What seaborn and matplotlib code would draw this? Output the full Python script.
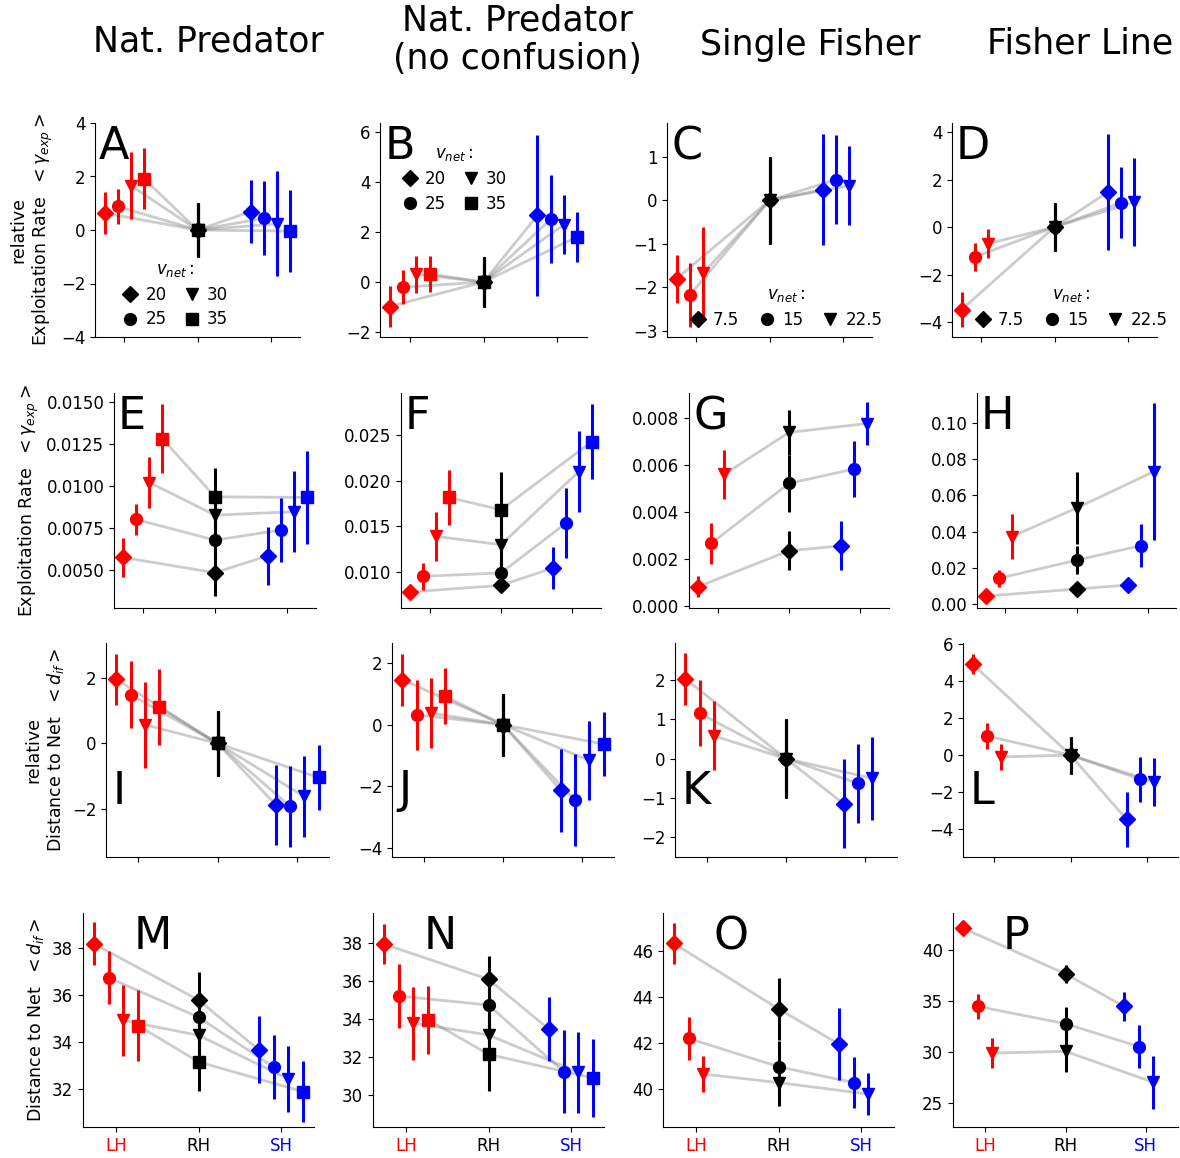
import numpy as np
import pandas as pd
import matplotlib
matplotlib.use('Agg')
import matplotlib.pyplot as plt
from matplotlib.lines import Line2D
import seaborn as sns

# habitats on the x axis and their colours
hab = ['LH', 'RH', 'SH']
hab_col = ['red', 'black', 'blue']
markers = ['D', 'o', 'v', 's']
vnet_pred = ['20', '25', '30', '35']
vnet_fish = ['7.5', '15', '22.5']

# each panel: rows = LH, RH, SH ; columns = v_net group (mean, error)
A_y = [[0.63, 0.88, 1.66, 1.92], [0, 0, 0, 0], [0.69, 0.44, 0.23, -0.04]]
A_e = [[0.79, 0.64, 1.26, 1.15], [1, 1, 1, 1], [1.19, 1.38, 1.96, 1.54]]
B_y = [[-0.98, -0.21, 0.31, 0.32], [0, 0, 0, 0], [2.67, 2.51, 2.30, 1.81]]
B_e = [[0.82, 0.68, 0.75, 0.72], [1, 1, 1, 1], [3.23, 1.76, 1.19, 1.01]]
C_y = [[-1.80, -2.18, -1.68], [0, 0, 0], [0.25, 0.48, 0.34]]
C_e = [[0.55, 0.73, 1.08], [1, 1, 1], [1.27, 1.03, 0.91]]
D_y = [[-3.48, -1.26, -0.70], [0, 0, 0], [1.47, 1.02, 1.05]]
D_e = [[0.74, 0.59, 0.60], [1, 1, 1], [2.45, 1.50, 1.85]]

E_y = [[0.00575, 0.00801, 0.01021, 0.01282], [0.00484, 0.00678, 0.00827, 0.00936],
       [0.00585, 0.00738, 0.00847, 0.00932]]
E_e = [[0.00115, 0.0009, 0.00153, 0.00206], [0.0014, 0.0012, 0.0014, 0.0017],
       [0.00173, 0.0019, 0.0024, 0.00275]]
F_y = [[0.00782, 0.00953, 0.0139, 0.01816], [0.00854, 0.0099, 0.01299, 0.01681],
       [0.01044, 0.01535, 0.021, 0.02427]]
F_e = [[0.0002, 0.00146, 0.0027, 0.003], [0.0006, 0.0012, 0.0025, 0.0041],
       [0.0023, 0.0038, 0.0044, 0.0041]]
G_y = [[0.00081, 0.00265, 0.00559], [0.00234, 0.00521, 0.00738], [0.00255, 0.00582, 0.00776]]
G_e = [[0.00044, 0.00087, 0.00103], [0.00083, 0.0012, 0.00095], [0.00104, 0.0012, 0.0009]]
H_y = [[0.0044, 0.0142, 0.0373], [0.0083, 0.0242, 0.053], [0.0105, 0.0323, 0.0732]]
H_e = [[0.0008, 0.0046, 0.0125], [0.0008, 0.0076, 0.02], [0.0008, 0.0118, 0.0377]]

I_y = [[1.96, 1.49, 0.57, 1.11], [0, 0, 0, 0], [-1.87, -1.92, -1.62, -1.04]]
I_e = [[0.77, 1.02, 1.31, 1.17], [1, 1, 1, 1], [1.22, 1.24, 1.23, 1.0]]
J_y = [[1.46, 0.32, 0.38, 0.92], [0, 0, 0, 0], [-2.13, -2.45, -1.16, -0.63]]
J_e = [[0.84, 1.14, 1.14, 0.91], [1, 1, 1, 1], [1.35, 1.49, 1.29, 1.04]]
K_y = [[2.03, 1.15, 0.58], [0, 0, 0], [-1.15, -0.63, -0.50]]
K_e = [[0.66, 0.84, 0.88], [1, 1, 1], [1.13, 1.0, 1.05]]
L_y = [[4.89, 1.03, -0.10], [0, 0, 0], [-3.47, -1.31, -1.44]]
L_e = [[0.54, 0.70, 0.70], [1, 1, 1], [1.49, 1.22, 1.30]]

M_y = [[38.19, 36.75, 34.93, 34.71], [35.80, 35.07, 34.30, 33.17], [33.68, 32.95, 32.44, 31.90]]
M_e = [[0.92, 1.14, 1.49, 1.50], [1.2, 1.0, 1.0, 1.25], [1.43, 1.36, 1.40, 1.30]]
N_y = [[37.96, 35.22, 33.78, 33.96], [36.10, 34.74, 33.16, 32.14], [33.47, 31.23, 31.18, 30.88]]
N_e = [[1.07, 1.67, 1.92, 1.80], [1.25, 1.2, 1.2, 1.93], [1.71, 2.18, 2.15, 2.07]]
O_y = [[46.33, 42.20, 40.65], [43.48, 40.97, 40.28], [41.96, 40.28, 39.78]]
O_e = [[0.90, 0.93, 0.78], [1.35, 1.1, 1.0], [1.58, 1.1, 0.9]]
P_y = [[42.10, 34.47, 29.92], [37.65, 32.79, 30.09], [34.47, 30.56, 27.07]]
P_e = [[0.5, 1.23, 1.5], [0.9, 1.6, 2.0], [1.37, 2.1, 2.6]]

col_titles = ['Nat. Predator', 'Nat. Predator\n(no confusion)', 'Single Fisher', 'Fisher Line']
row_labels = ['relative\nExploitation Rate  $<\\gamma_{exp}>$',
              'Exploitation Rate  $<\\gamma_{exp}>$',
              'relative\nDistance to Net  $<d_{if}>$',
              'Distance to Net  $<d_{if}>$']

panels = [
    ('A', A_y, A_e, (-4, 4)), ('B', B_y, B_e, (-2.2, 6.36)),
    ('C', C_y, C_e, (-3.14, 1.78)), ('D', D_y, D_e, (-4.63, 4.38)),
    ('E', E_y, E_e, (0.00274, 0.01554)), ('F', F_y, F_e, (0.00606, 0.0296)),
    ('G', G_y, G_e, (-0.0001, 0.00906)), ('H', H_y, H_e, (-0.0022, 0.1166)),
    ('I', I_y, I_e, (-3.47, 3.07)), ('J', J_y, J_e, (-4.29, 2.65)),
    ('K', K_y, K_e, (-2.5, 2.94)), ('L', L_y, L_e, (-5.5, 6.05)),
    ('M', M_y, M_e, (30.4, 39.5)), ('N', N_y, N_e, (28.3, 39.6)),
    ('O', O_y, O_e, (38.35, 47.65)), ('P', P_y, P_e, (22.7, 43.6)),
]

# layout in pixels (left, right) per panel, rows (bottom, height)
W, H = 1180, 1158
xs_px = [[(95, 300), (380, 587), (667, 872), (952, 1157)],
         [(114, 316), (401, 601), (689, 889), (977, 1176)],
         [(106, 329), (392, 614), (675, 897), (963, 1178)],
         [(83, 314), (373, 604), (663, 894), (953, 1178)]]
rows_px = [(337, 214), (608, 215), (857, 214), (1127, 214)]

sns.set_style('ticks')
plt.rcParams.update({'axes.edgecolor': 'black', 'xtick.color': 'black', 'ytick.color': 'black',
                     'text.color': 'black', 'axes.labelcolor': 'black',
                     'xtick.labelsize': 12, 'ytick.labelsize': 12, 'axes.labelsize': 12.5})

fig = plt.figure(figsize=(W / 100, H / 100), dpi=100)


def draw(ax, y, e):
    y = np.array(y)
    e = np.array(e)
    n = y.shape[1]
    off = (np.arange(n) - 1.5) * 0.18
    rows = []
    for g in range(n):
        for h in range(3):
            x = h + (0 if h == 1 else off[g])
            rows.append({'x': x, 'y': y[h, g], 'grp': g})
    df = pd.DataFrame(rows)
    sns.lineplot(data=df, x='x', y='y', units='grp', estimator=None, sort=False,
                 color='grey', alpha=0.4, lw=2, ax=ax, legend=False, zorder=1)
    for h in range(3):
        for g in range(n):
            x = h + (0 if h == 1 else off[g])
            ax.errorbar(x, y[h, g], yerr=e[h, g], fmt=markers[g], color=hab_col[h],
                        ms=8.5, elinewidth=2.2, capsize=0, zorder=3)
    return n


for k, (letter, y, e, ylim) in enumerate(panels):
    r, c = divmod(k, 4)
    l, rr = xs_px[r][c]
    b, h = rows_px[r]
    ax = fig.add_axes([l / W, 1 - b / H, (rr - l) / W, h / H])
    n = draw(ax, y, e)
    ax.set_xlim(-0.4, 2.4)
    ax.set_ylim(*ylim)
    ax.set_xticks([0, 1, 2])
    ax.set_xlabel('')
    ax.set_ylabel(row_labels[r] if c == 0 else '')
    if r == 3:
        ax.set_xticklabels(hab)
        for t, col in zip(ax.get_xticklabels(), hab_col):
            t.set_color(col)
    else:
        ax.set_xticklabels([])
    sns.despine(ax=ax)

    if r < 2:
        ax.text(0.02, 0.99, letter, transform=ax.transAxes, fontsize=32, ha='left', va='top')
    elif r == 2:
        ax.text(0.03, 0.25, letter, transform=ax.transAxes, fontsize=32, ha='left', va='baseline')
    else:
        ax.text(0.22, 0.99, letter, transform=ax.transAxes, fontsize=32, ha='left', va='top')

    if r == 0:
        labels = vnet_pred if n == 4 else vnet_fish
        handles = [Line2D([], [], ls='none', marker=markers[i], color='black', ms=8.5)
                   for i in range(len(labels))]
        if c == 0:
            ncol, anchor, cs = 2, (0.39, 0.2), 1.0
        elif c == 1:
            ncol, anchor, cs = 2, (0.36, 0.74), 1.0
        else:
            ncol, anchor, cs = 3, (0.58, 0.14), 1.15
        ax.legend(handles, labels, title='$v_{net}:$', ncol=ncol, loc='center',
                  bbox_to_anchor=anchor, frameon=False, fontsize=12, title_fontsize=12,
                  handletextpad=0.4, columnspacing=cs, handlelength=1.0,
                  labelspacing=0.4, borderpad=0.1)

title_pos = [(208, 42), (517, 40), (810, 45), (1080, 43)]
for t, (tx, ty) in zip(col_titles, title_pos):
    fig.text(tx / W, 1 - ty / H, t, fontsize=25, ha='center', va='center', linespacing=1.15)

fig.savefig('out.png', dpi=100)
